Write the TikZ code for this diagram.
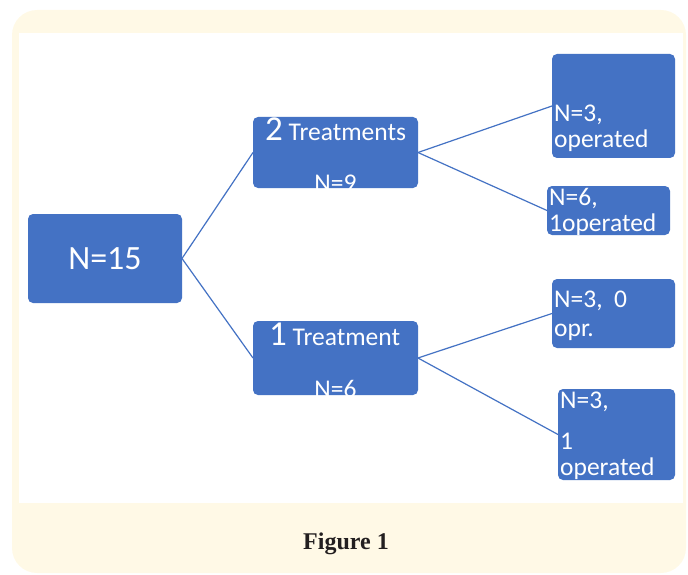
\documentclass[tikz,border=0pt]{standalone}
\usepackage{fontspec}
\newfontfamily\calib{Carlito}
\newfontfamily\capfont{Liberation Serif}
\definecolor{boxblue}{HTML}{4472C4}
\definecolor{cream}{HTML}{FFF9E6}
\definecolor{captext}{HTML}{231F20}

\begin{document}
\begin{tikzpicture}[x=1pt,y=-1pt,
                    box/.style={fill=boxblue,rounded corners=5pt,anchor=north west,
                                inner sep=0pt,outer sep=0pt},
                    txt/.style={text=white,inner sep=0pt,
                                font=\calib\fontsize{25.5}{26}\selectfont},
                    lines/.style={txt,align=left,anchor=north west},
                    link/.style={draw=boxblue,line width=1.2pt}]
  \useasboundingbox (0,0) rectangle (688,575);
  \fill[cream,rounded corners=25pt] (12,10) rectangle (686,573);
  \fill[white] (19,33) rectangle (683,503);

  \node[box,minimum width=154pt,minimum height=89pt,text=white,
        font=\calib\fontsize{34}{34}\selectfont] (root) at (28,214) {N=15};
  \node[box,minimum width=165pt,minimum height=71pt] (two) at (253,117) {};
  \node[box,minimum width=165pt,minimum height=74pt] (one) at (253,321) {};
  \node[box,minimum width=123pt,minimum height=104pt] (opA) at (552,54) {};
  \node[box,minimum width=123pt,minimum height=49pt] (opB) at (547,186) {};
  \node[box,minimum width=123pt,minimum height=69pt] (opC) at (552,279) {};
  \node[box,minimum width=117pt,minimum height=91pt] (opD) at (558,389) {};

  \node[txt,anchor=base west] (twoT) at (265,141)
    {{\fontsize{35}{35}\selectfont 2} Treatments};
  \node[txt,anchor=base west] (oneT) at (269,345)
    {{\fontsize{35}{35}\selectfont 1} Treatment};
  % the N= lines of the middle boxes run past the bottom edge
  \begin{scope}
    \clip[rounded corners=5pt] (two.south west) rectangle (two.north east);
    \node[txt,anchor=base] (twoN) at (335.5,191) {N=9};
  \end{scope}
  \begin{scope}
    \clip[rounded corners=5pt] (one.south west) rectangle (one.north east);
    \node[txt,anchor=base] (oneN) at (335.5,397) {N=6};
  \end{scope}

  \node[lines] (opAT) at (554,105) {N=3,\\operated};
  \begin{scope}
    \clip[rounded corners=5pt] (opB.south west) rectangle (opB.north east);
    \node[lines] (opBT) at (549,188) {N=6,\\1operated};
  \end{scope}
  \node[lines,font=\calib\fontsize{25.5}{29}\selectfont] (opCT) at (554,291)
    {N=3,\ \ 0\\opr.};
  \node[lines] (opDT) at (560,392) {N=3,\\[15pt]1\\operated};

  \draw[link] (root.east) -- (two.west);
  \draw[link] (root.east) -- (one.west);
  \draw[link] (two.east) -- (opA.west);
  \draw[link] (two.east) -- (opB.west);
  \draw[link] (one.east) -- (opC.west);
  \draw[link] (one.east) -- (opD.west);

  \node[text=captext,inner sep=0pt,anchor=base,
        font=\capfont\bfseries\fontsize{24}{24}\selectfont] (caption) at (346,549)
    {Figure 1};
\end{tikzpicture}
\end{document}
